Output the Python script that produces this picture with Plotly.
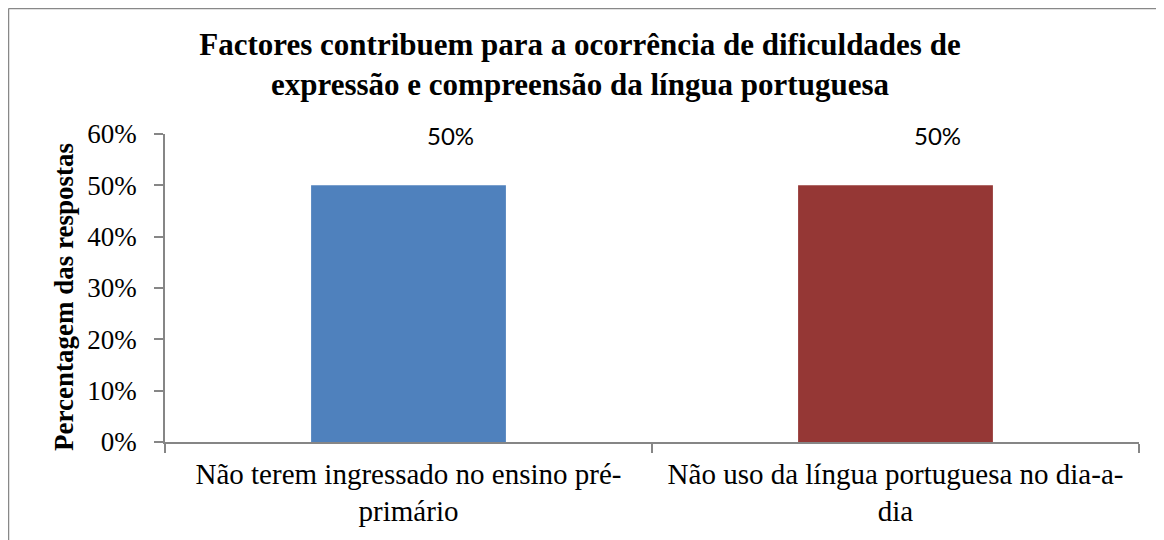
import plotly.graph_objects as go

categories = ["Não terem ingressado no ensino pré-<br>primário",
              "Não uso da língua portuguesa no dia-a-<br>dia"]
values = [0.50, 0.50]
bar_colors = ["#4F81BD", "#953735"]
title_text = ("<b>Factores contribuem para a ocorrência de dificuldades de<br>"
              "expressão e compreensão da língua portuguesa</b>")
y_title = "<b>Percentagem das respostas</b>"
y_ticks = [0, 0.1, 0.2, 0.3, 0.4, 0.5, 0.6]

OFF = 8  # page body margin
W, H = 1164 - OFF, 540 - OFF
ML, MR, MT, MB = 165 - OFF, 25, 134 - OFF, 98
PW, PH = W - ML - MR, H - MT - MB

def px_to_paper_x(px):  # px in page coords
    return (px - OFF - ML) / PW

def px_to_paper_y(py):
    return (H - MB - (py - OFF)) / PH

fig = go.Figure()
fig.add_trace(go.Bar(x=categories, y=values, marker=dict(color=bar_colors, line=dict(width=0)),
                     showlegend=False, hoverinfo="skip"))

for c, v in zip(categories, values):
    fig.add_annotation(x=c, y=v, text=f"{v:.0%}", showarrow=False, yanchor="middle",
                       yshift=50, xshift=42,
                       font=dict(family="Lato", size=24, color="#000000"))

fig.add_annotation(xref="paper", yref="paper", x=px_to_paper_x(64), y=px_to_paper_y(297),
                   text=y_title, textangle=-90, showarrow=False, xanchor="center", yanchor="middle",
                   font=dict(family="Liberation Serif", size=27, color="#000000"))

axis_col = "#868686"
fig.update_layout(
    width=W, height=H,
    margin=dict(l=ML, r=MR, t=MT, b=MB),
    paper_bgcolor="white", plot_bgcolor="white",
    bargap=0.6,
    title=dict(text=title_text, x=(580 - OFF) / W, xanchor="center", xref="container",
               y=1 - 47 / H, yanchor="top", yref="container",
               font=dict(family="Liberation Serif", size=31, color="#000000")),
    xaxis=dict(showline=True, linecolor=axis_col, linewidth=1.5, ticks="outside", ticklen=9,
               tickcolor=axis_col, tickwidth=1.5, tickson="boundaries", showgrid=False,
               ticklabelstandoff=5,
               tickfont=dict(family="Liberation Serif", size=29, color="#000000")),
    yaxis=dict(range=[0, 0.6], tickvals=y_ticks, tickformat=".0%", showline=True, linecolor=axis_col,
               linewidth=1.5, ticks="outside", ticklen=9, tickcolor=axis_col, tickwidth=1.5,
               showgrid=False, zeroline=False, ticklabelstandoff=12,
               tickfont=dict(family="Liberation Serif", size=27, color="#000000")),
    shapes=[
        dict(type="line", xref="paper", yref="paper", x0=px_to_paper_x(8.5), x1=px_to_paper_x(8.5),
             y0=px_to_paper_y(8.5), y1=px_to_paper_y(560), line=dict(color="#888888", width=1.5)),
        dict(type="line", xref="paper", yref="paper", x0=px_to_paper_x(8.5), x1=px_to_paper_x(1180),
             y0=px_to_paper_y(8.5), y1=px_to_paper_y(8.5), line=dict(color="#888888", width=1.5)),
    ],
)

fig.write_html("out.html")
